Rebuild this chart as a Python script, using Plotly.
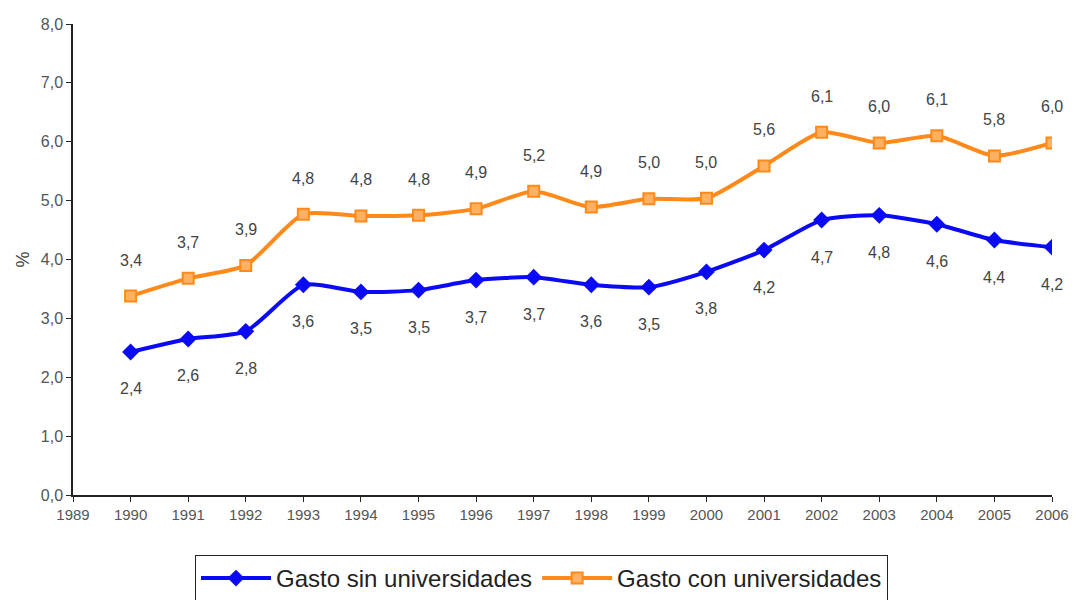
import plotly.graph_objects as go

years = list(range(1990, 2007))
sin_univ = [2.43, 2.65, 2.78, 3.57, 3.45, 3.48, 3.65, 3.70, 3.57, 3.53, 3.79, 4.16, 4.67, 4.75, 4.60, 4.33, 4.21]
con_univ = [3.38, 3.68, 3.90, 4.77, 4.74, 4.75, 4.86, 5.16, 4.89, 5.03, 5.04, 5.59, 6.16, 5.98, 6.10, 5.76, 5.98]
sin_labels = ["2,4", "2,6", "2,8", "3,6", "3,5", "3,5", "3,7", "3,7", "3,6", "3,5", "3,8", "4,2", "4,7", "4,8", "4,6", "4,4", "4,2"]
con_labels = ["3,4", "3,7", "3,9", "4,8", "4,8", "4,8", "4,9", "5,2", "4,9", "5,0", "5,0", "5,6", "6,1", "6,0", "6,1", "5,8", "6,0"]
y_ticks = [0, 1, 2, 3, 4, 5, 6, 7, 8]
y_tick_text = ["0,0", "1,0", "2,0", "3,0", "4,0", "5,0", "6,0", "7,0", "8,0"]
x_ticks = list(range(1989, 2007))

BLUE = "#0A0AF5"
ORANGE = "#FF8A1A"
FONT = "Liberation Sans, Arial"

fig = go.Figure()
fig.add_trace(go.Scatter(
    x=years, y=sin_univ, name="Gasto sin universidades",
    mode="lines+markers",
    line=dict(color=BLUE, width=4, shape="spline", smoothing=0.6),
    marker=dict(symbol="diamond", size=13, color=BLUE),
))
fig.add_trace(go.Scatter(
    x=years, y=con_univ, name="Gasto con universidades",
    mode="lines+markers",
    line=dict(color=ORANGE, width=4, shape="spline", smoothing=0.6),
    marker=dict(symbol="square", size=11, color="#FFB060", line=dict(color=ORANGE, width=2)),
))

for x, y, t in zip(years, con_univ, con_labels):
    fig.add_annotation(x=x, y=y, text=t, showarrow=False, yshift=36,
                       font=dict(family=FONT, size=16, color="#444444"))
for x, y, t in zip(years, sin_univ, sin_labels):
    fig.add_annotation(x=x, y=y, text=t, showarrow=False, yshift=-37,
                       font=dict(family=FONT, size=16, color="#444444"))

fig.update_layout(
    width=1070, height=592,
    margin=dict(l=65, r=26, t=16, b=105),
    plot_bgcolor="white", paper_bgcolor="white",
    font=dict(family=FONT, color="#555555"),
    showlegend=True,
    legend=dict(orientation="h", x=0.1246, y=0.076, xanchor="left", yanchor="top",
                yref="container",
                bordercolor="#222222", borderwidth=1,
                font=dict(size=24, color="#222222"), itemwidth=70),
    xaxis=dict(range=[1989, 2006], tickvals=x_ticks, ticktext=[str(v) for v in x_ticks],
               automargin=False,
               showgrid=False, zeroline=False, showline=True, linecolor="#222222", linewidth=1.5,
               ticks="outside", ticklen=5, tickcolor="#222222",
               tickfont=dict(size=15, color="#555555")),
    xaxis2=dict(range=[1989, 2006], tickvals=x_ticks, overlaying="x", anchor="y",
                automargin=False, showticklabels=False,
                showgrid=False, zeroline=False, showline=False,
                ticks="inside", ticklen=5, tickcolor="#222222"),
    yaxis=dict(range=[0, 8], tickvals=y_ticks, ticktext=y_tick_text,
               automargin=False,
               showgrid=False, zeroline=False, showline=True, linecolor="#222222", linewidth=1.5,
               ticks="outside", ticklen=5, tickcolor="#222222",
               tickfont=dict(size=16, color="#555555"),
               title=dict(text="%", font=dict(size=18, color="#444444"), standoff=6)),
)

fig.write_html("out.html")
